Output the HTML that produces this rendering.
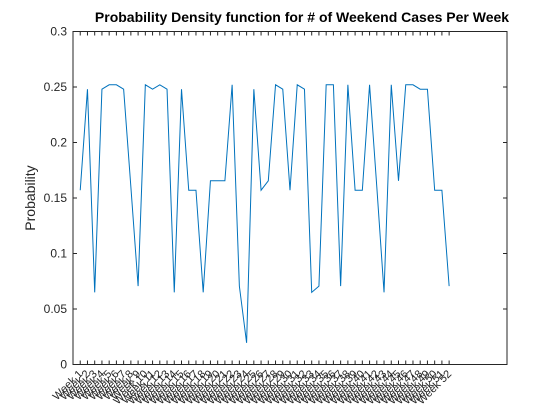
<!DOCTYPE html>
<html><head><meta charset="utf-8"><style>
body{margin:0;background:#fff;}
svg{display:block;font-family:"Liberation Sans",Arial,sans-serif;}
</style></head><body>
<svg id="chart" width="560" height="420" viewBox="0 0 560 420" xmlns="http://www.w3.org/2000/svg">
<rect x="0" y="0" width="560" height="420" fill="#fff"/>
<rect x="73" y="31.5" width="434" height="333" fill="#fff"/>
<text x="302" y="22" text-anchor="middle" font-size="14" font-weight="bold" fill="#000">Probability Density function for # of Weekend Cases Per Week</text>
<text transform="translate(35,198) rotate(-90)" text-anchor="middle" font-size="14" fill="#262626">Probability</text>
<g id="ticks"></g>
<polyline id="line" fill="none" stroke="#0072bd" stroke-width="1"/>
<rect x="73" y="31.5" width="434" height="333" fill="none" stroke="#262626" stroke-width="1"/>
</svg>
<script>
const weeks = [];
for (let i = 1; i <= 52; i++) weeks.push('Week ' + i);
const probs = [0.157,0.248,0.065,0.248,0.252,0.252,0.248,0.16,0.0706,0.252,
0.248,0.252,0.248,0.065,0.248,0.157,0.157,0.065,0.1655,0.1655,
0.1655,0.252,0.0706,0.0195,0.248,0.157,0.1655,0.252,0.248,0.157,
0.252,0.248,0.065,0.0706,0.252,0.252,0.0706,0.252,0.157,0.157,
0.252,0.16,0.065,0.252,0.1655,0.252,0.252,0.248,0.248,0.157,
0.157,0.0706];
const yTicks = [0,0.05,0.1,0.15,0.2,0.25,0.3];
const yTickLabels = ['0','0.05','0.1','0.15','0.2','0.25','0.3'];

const X0=73,X1=507,Y0=364.5,Y1=31.5,XMAX=60,YMAX=0.3;
function sx(i){return X0+(i)/XMAX*(X1-X0);}
function sy(v){return Y0-v/YMAX*(Y0-Y1);}
const NS='http://www.w3.org/2000/svg';
const g=document.getElementById('ticks');
function mk(tag,attrs){const e=document.createElementNS(NS,tag);for(const k in attrs)e.setAttribute(k,attrs[k]);g.appendChild(e);return e;}
yTicks.forEach((v,k)=>{
  const y=sy(v);
  let t=mk('line',{x1:X0,x2:X0+4,y1:y,y2:y,stroke:'#262626'});
  
  
  let t2=mk('line',{x1:X1-4,x2:X1,y1:y,y2:y,stroke:'#262626'});
  
  
  let l=mk('text',{x:X0-6,y:y+4,'text-anchor':'end','font-size':'12',fill:'#262626'});
  l.textContent=yTickLabels[k];
  
  
});
weeks.forEach((w,i)=>{
  const x=sx(i+1);
  let t=mk('line',{x1:x,x2:x,y1:Y0,y2:Y0-4,stroke:'#262626'});
  
  
  let t2=mk('line',{x1:x,x2:x,y1:Y1,y2:Y1+4,stroke:'#262626'});
  
  
  let l=mk('text',{'text-anchor':'end','font-size':'11',fill:'#262626',transform:'translate('+(x+3)+','+(Y0+10)+') rotate(-45)'});
  l.textContent=w;
  
  
});
document.getElementById('line').setAttribute('points',probs.map((v,i)=>sx(i+1)+','+sy(v)).join(' '));
</script>
</body></html>
